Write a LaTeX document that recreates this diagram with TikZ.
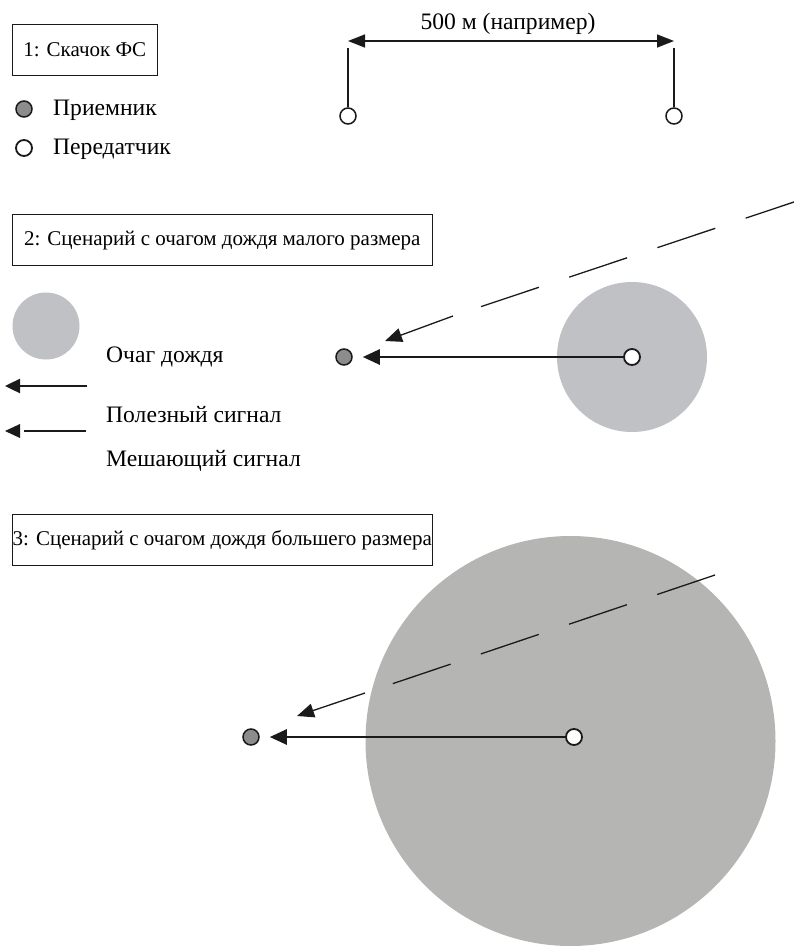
\documentclass[tikz,border=0pt]{standalone}
\usepackage{fontspec}
\setmainfont{Liberation Serif}
\usetikzlibrary{arrows.meta}
\definecolor{cellA}{HTML}{C0C1C5}
\definecolor{cellB}{HTML}{B5B5B4}
\definecolor{rxgray}{HTML}{8C8C8C}
\definecolor{ink}{HTML}{1A1A1A}
\begin{document}
\begin{tikzpicture}[x=1pt,y=-1pt,
  every node/.style={font=\fontsize{21}{25}\selectfont},
  lbl/.style={anchor=base west, inner sep=0, font=\fontsize{23.6}{28}\selectfont},
  titlebox/.style={draw=ink, line width=1.2pt, anchor=north west, inner sep=0, minimum height=51pt},
  rx/.style={circle, draw=ink, line width=1.5pt, fill=rxgray, minimum size=16pt, inner sep=0},
  tx/.style={circle, draw=ink, line width=1.8pt, fill=white, minimum size=16pt, inner sep=0},
  cellsmall/.style={circle, fill=cellA, inner sep=0},
  cellbig/.style={circle, fill=cellB, inner sep=0},
  useful/.style={draw=ink, line width=2.6pt, -{Triangle[length=17pt,width=15pt]}},
  interf/.style={draw=ink, line width=1.3pt},
  interfhead/.style={draw=ink, line width=1.3pt, -{Triangle[length=17pt,width=14pt]}},
  dimline/.style={draw=ink, line width=1.5pt, {Triangle[length=17pt,width=13pt]}-{Triangle[length=17pt,width=13pt]}},
]
\useasboundingbox (0,0) rectangle (794,947);

% ---------- section 1 ----------
\node[titlebox, minimum width=145pt] (b1) at (11.7,24) {1: Скачок ФС};
\node[rx] (lrx) at (24,109) {};
\node[lbl] (lrxt) at (53,116) {Приемник};
\node[tx] (ltx) at (24,148) {};
\node[lbl] (ltxt) at (53,154) {Передатчик};

\node[tx, line width=1.5pt] (ta) at (348,116) {};
\node[tx, line width=1.5pt] (tb) at (674,116) {};
\coordinate (tatop) at (348,48);
\coordinate (tbtop) at (674,48);
\draw[draw=ink, line width=1.5pt] (tatop) -- (ta);
\draw[draw=ink, line width=1.5pt] (tbtop) -- (tb);
\coordinate (da) at (348,41);
\coordinate (db) at (674,41);
\draw[dimline] (da) -- (db);
\node[anchor=base, inner sep=0, font=\fontsize{23.6}{28}\selectfont] (dimt) at (508,30) {500 м (например)};

% ---------- section 2 ----------
\node[titlebox, minimum width=420pt] (b2) at (11.7,214) {2: Сценарий с очагом дождя малого размера};
\node[cellsmall, minimum size=67pt] (lcell) at (46,326) {};
\node[lbl] (lcellt) at (106,362) {Очаг дождя};
\coordinate (lu1) at (87,386);
\coordinate (lu2) at (5,386);
\draw[useful, line width=2.4pt, -{Triangle[length=15pt,width=14pt]}] (lu1) -- (lu2);
\node[lbl] (lut) at (106,422) {Полезный сигнал};
\coordinate (li1) at (86,431);
\coordinate (li2) at (24,431);
\coordinate (li3) at (5,431);
\draw[draw=ink, line width=2.2pt] (li1) -- (li2);
\fill[ink] (li3) -- ++(15,-7) -- ++(0,14) -- cycle;
\node[lbl] (lit) at (106,466) {Мешающий сигнал};

\node[cellsmall, minimum size=150pt] (cell2) at (632,357) {};
\node[tx] (tx2) at (632,357) {};
\node[rx] (rx2) at (344,357) {};
\draw[useful, shorten >=10pt] (tx2) -- (rx2);
\coordinate (i2a) at (794,202);
\coordinate (i2b) at (453,316);
\coordinate (i2c) at (385,341);
\draw[interf, dash pattern=on 61pt off 32pt, dash phase=10pt] (i2a) -- (i2b);
\draw[interfhead] (i2b) -- (i2c);

% ---------- section 3 ----------
\node[titlebox, minimum width=420pt] (b3) at (11.7,514) {3: Сценарий с очагом дождя большего размера};
\node[cellbig, minimum size=410pt] (cell3) at (570.5,741) {};
\node[tx] (tx3) at (574,737) {};
\node[rx] (rx3) at (251,737) {};
\draw[useful, shorten >=10pt] (tx3) -- (rx3);
\coordinate (i3a) at (715,575);
\coordinate (i3b) at (365,693);
\coordinate (i3c) at (297,716);
\draw[interf, dash pattern=on 61pt off 32pt] (i3a) -- (i3b);
\draw[interfhead] (i3b) -- (i3c);
\end{tikzpicture}
\end{document}
